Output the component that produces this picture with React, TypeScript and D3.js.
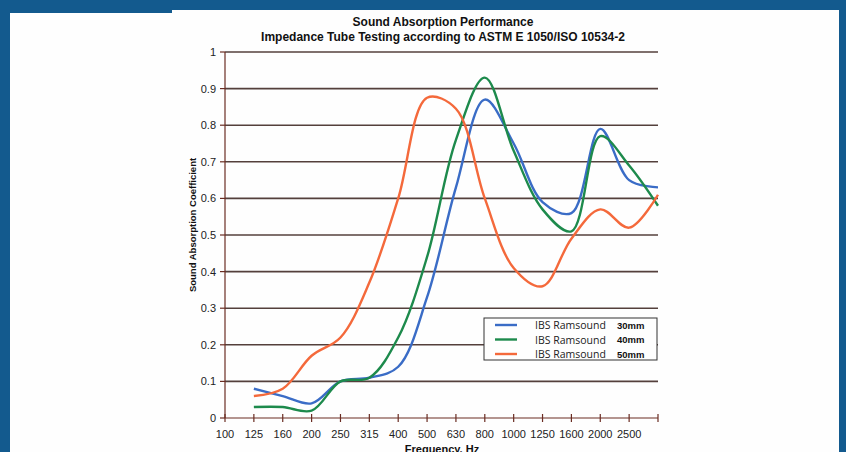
import React from "react";
import * as d3 from "d3";

// frequency bands on the x axis (last one has no label)
const freqLabels = ["100", "125", "160", "200", "250", "315", "400", "500", "630", "800", "1000", "1250", "1600", "2000", "2500", "3150"];
const dataFreqs = freqLabels.slice(1);

const yTicks = [0, 0.1, 0.2, 0.3, 0.4, 0.5, 0.6, 0.7, 0.8, 0.9, 1];

const seriesNames = ["IBS Ramsound", "IBS Ramsound", "IBS Ramsound"];
const seriesThickness = ["30mm", "40mm", "50mm"];
const seriesColors = ["#3a6cc6", "#1d8a4c", "#f4693b"];

const values30 = [0.08, 0.06, 0.04, 0.10, 0.11, 0.14, 0.33, 0.63, 0.87, 0.75, 0.59, 0.56, 0.79, 0.65, 0.63];
const values40 = [0.03, 0.03, 0.02, 0.10, 0.11, 0.22, 0.44, 0.76, 0.93, 0.73, 0.57, 0.51, 0.77, 0.69, 0.58];
const values50 = [0.06, 0.08, 0.17, 0.22, 0.37, 0.60, 0.875, 0.845, 0.60, 0.41, 0.36, 0.49, 0.57, 0.52, 0.61];
const allSeries = [values30, values40, values50];

export default function App() {
  const width = 846, height = 452;
  const plot = { left: 225, right: 658, top: 52, bottom: 418 };

  const x = d3.scalePoint<string>().domain(freqLabels).range([plot.left, plot.right]);
  const y = d3.scaleLinear().domain([0, 1]).range([plot.bottom, plot.top]);

  const line = d3.line<number>()
    .x((d, i) => x(dataFreqs[i]) as number)
    .y(d => y(d))
    .curve(d3.curveCatmullRom.alpha(0.5));

  const font = "'Liberation Sans', Arial, sans-serif";
  const axisColor = "#6a2c22";
  const gridColor = "#54403c";

  // legend box
  const lg = { x: 484, y: 318, w: 173, h: 42 };

  return (
    <svg width={width} height={height} style={{ position: "absolute", left: 0, top: 0 }}>
      <rect x={0} y={0} width={width} height={height} fill="#135a8e" />
      <rect x={10} y={13} width={162} height={height} fill="#fefefe" />
      <rect x={172} y={10} width={667} height={height} fill="#fefefe" />

      {/* title */}
      <text x={443} y={26} textAnchor="middle" fontFamily={font} fontWeight="bold" fontSize={12} fill="#111">
        Sound Absorption Performance
      </text>
      <text x={443} y={41} textAnchor="middle" fontFamily={font} fontWeight="bold" fontSize={12} fill="#111">
        Impedance Tube Testing according to ASTM E 1050/ISO 10534-2
      </text>

      {/* grid lines */}
      {yTicks.filter(t => t > 0).map(t => (
        <line key={t} x1={plot.left} x2={plot.right} y1={y(t)} y2={y(t)} stroke={gridColor} strokeWidth={1.6} />
      ))}

      {/* y axis */}
      <line x1={plot.left} x2={plot.left} y1={plot.top} y2={plot.bottom} stroke={axisColor} strokeWidth={1.2} />
      {yTicks.map(t => (
        <g key={t}>
          <line x1={plot.left - 5} x2={plot.left} y1={y(t)} y2={y(t)} stroke={axisColor} strokeWidth={1.2} />
          <text x={plot.left - 9} y={y(t) + 4} textAnchor="end" fontFamily={font} fontSize={11} fill="#222">
            {d3.format("")(t)}
          </text>
        </g>
      ))}
      <text transform={`translate(196,225) rotate(-90)`} textAnchor="middle" fontFamily={font} fontWeight="bold" fontSize={9.5} fill="#111">
        Sound Absorption Coefficient
      </text>

      {/* x axis */}
      <line x1={plot.left} x2={plot.right} y1={plot.bottom} y2={plot.bottom} stroke={axisColor} strokeWidth={1.2} />
      {freqLabels.map((f, i) => (
        <g key={f}>
          <line x1={x(f)} x2={x(f)} y1={plot.bottom - 4} y2={plot.bottom + 4} stroke={axisColor} strokeWidth={1.2} />
          {i < freqLabels.length - 1 && (
            <text x={x(f)} y={438} textAnchor="middle" fontFamily={font} fontSize={11} fill="#222">{f}</text>
          )}
        </g>
      ))}
      <text x={442} y={453} textAnchor="middle" fontFamily={font} fontWeight="bold" fontSize={11} fill="#111">
        Frequency, Hz
      </text>

      {/* series */}
      {allSeries.map((s, i) => (
        <path key={i} d={line(s) || ""} fill="none" stroke={seriesColors[i]} strokeWidth={2.4} />
      ))}

      {/* legend */}
      <rect x={lg.x} y={lg.y} width={lg.w} height={lg.h} fill="#fefefe" stroke="#333" strokeWidth={1} />
      {seriesNames.map((n, i) => {
        const cy = lg.y + 7 + i * 14.5;
        return (
          <g key={i}>
            <line x1={495} x2={517} y1={cy} y2={cy} stroke={seriesColors[i]} strokeWidth={2.4} />
            <text x={535} y={cy + 4} fontFamily="'Open Sans', 'Liberation Sans', sans-serif" fontSize={10.5} fill="#222">{n}</text>
            <text x={617} y={cy + 3.5} fontFamily={font} fontWeight="bold" fontSize={9.5} fill="#111">{seriesThickness[i]}</text>
          </g>
        );
      })}
    </svg>
  );
}
